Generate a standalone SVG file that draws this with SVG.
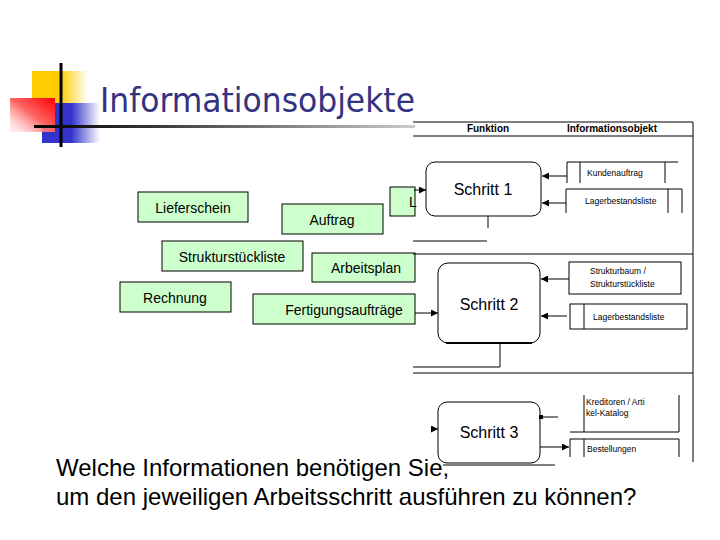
<svg xmlns="http://www.w3.org/2000/svg" width="720" height="540" viewBox="0 0 720 540">
<defs>
<linearGradient id="gY" x1="0" y1="0" x2="1" y2="0"><stop offset="0" stop-color="#FFCC00"/><stop offset="0.5" stop-color="#FFCC00"/><stop offset="1" stop-color="#FFCC00" stop-opacity="0"/></linearGradient>
<linearGradient id="gB" x1="0" y1="0" x2="1" y2="0"><stop offset="0" stop-color="#3333CC"/><stop offset="0.5" stop-color="#3333CC"/><stop offset="1" stop-color="#3333CC" stop-opacity="0"/></linearGradient>
<linearGradient id="gR" x1="1" y1="0" x2="0" y2="1"><stop offset="0" stop-color="#FF0000"/><stop offset="0.5" stop-color="#FF6666"/><stop offset="1" stop-color="#FFDDDD" stop-opacity="0.3"/></linearGradient>
<linearGradient id="gL" x1="0" y1="0" x2="1" y2="0"><stop offset="0" stop-color="#000"/><stop offset="0.3" stop-color="#333"/><stop offset="1" stop-color="#ccc"/></linearGradient>
<marker id="ah" viewBox="0 0 8 8" refX="8" refY="4" markerWidth="7" markerHeight="7" markerUnits="userSpaceOnUse" orient="auto"><path d="M0,0 L8,4 L0,8 z" fill="#000"/></marker>
<marker id="sq" viewBox="0 0 4 4" refX="2" refY="2" markerWidth="4" markerHeight="5" markerUnits="userSpaceOnUse" orient="auto"><rect x="0" y="0" width="4" height="4" fill="#000"/></marker>
</defs>
<style>
.g rect{fill:#CCFFCC;stroke:#000;stroke-width:1}
.g text{font-family:"Liberation Sans",Arial,sans-serif;font-size:14px;fill:#000;text-anchor:middle}
.st rect{fill:#fff;stroke:#000;stroke-width:1}
.st text{font-family:"Liberation Sans",Arial,sans-serif;font-size:16px;fill:#000;text-anchor:middle}
.ib line,.ib rect{fill:none;stroke:#000;stroke-width:1}
.ib text{font-family:"Liberation Sans",Arial,sans-serif;font-size:8.5px;fill:#000}
.c line,.c polyline{fill:none;stroke:#000;stroke-width:1}
.hd{font-family:"Liberation Sans",Arial,sans-serif;font-size:10px;font-weight:bold;fill:#000;text-anchor:middle}
.bt{font-family:"Liberation Sans",Arial,sans-serif;font-size:24px;fill:#000}
</style>
<rect width="720" height="540" fill="#fff"/>
<g id="logo">
<rect x="32" y="71" width="56" height="32" fill="url(#gY)"/>
<rect x="42" y="103" width="58" height="40" fill="url(#gB)"/>
<rect x="10" y="98" width="45" height="34" fill="url(#gR)"/>
<line x1="61" y1="63" x2="61" y2="147" stroke="#000" stroke-width="3"/>
<rect x="34" y="125" width="381" height="3" fill="url(#gL)"/>
</g>
<text id="title" x="100" y="112" font-family="'DejaVu Sans Condensed','DejaVu Sans',sans-serif" font-size="34" fill="#333380" textLength="315" lengthAdjust="spacingAndGlyphs">Informationsobjekte</text>

<g id="lieferschein" class="g"><rect x="138" y="192" width="110" height="30"/><text x="193" y="213">Lieferschein</text></g>
<g id="auftrag" class="g"><rect x="282" y="204" width="101" height="30"/><text x="332" y="225">Auftrag</text></g>
<g id="l-box" class="g"><rect x="390" y="187" width="25" height="29"/><text x="413" y="207">L</text></g>
<g id="strukturstueckliste" class="g"><rect x="162" y="241" width="141" height="30"/><text x="232" y="262">Strukturstückliste</text></g>
<g id="arbeitsplan" class="g"><rect x="312" y="253" width="103" height="29"/><text x="366" y="273">Arbeitsplan</text></g>
<g id="rechnung" class="g"><rect x="120" y="282" width="111" height="30"/><text x="175" y="303">Rechnung</text></g>
<g id="fertigungsauftraege" class="g"><rect x="253" y="294" width="162" height="30"/><text x="344" y="315">Fertigungsaufträge</text></g>

<g id="table-header">
<line x1="413" y1="122" x2="693" y2="122" stroke="#000"/>
<line x1="413" y1="136" x2="693" y2="136" stroke="#000"/>
<text class="hd" x="488" y="132">Funktion</text>
<text class="hd" x="612" y="132">Informationsobjekt</text>
</g>

<g id="schritt1" class="st"><rect x="426" y="162" width="115" height="54" rx="9"/><text x="483" y="195">Schritt 1</text></g>
<g id="schritt2" class="st"><rect x="438" y="263" width="102" height="80" rx="10"/><line x1="446" y1="343" x2="532" y2="343" stroke="#000" stroke-width="2"/><text x="489" y="310">Schritt 2</text></g>
<g id="schritt3" class="st"><rect x="438" y="402" width="102" height="61" rx="9"/><text x="489" y="438">Schritt 3</text></g>

<g id="kundenauftrag" class="ib">
<line x1="567" y1="162" x2="678" y2="162"/><line x1="567" y1="162" x2="567" y2="183"/><line x1="580" y1="162" x2="580" y2="183"/><line x1="665" y1="162" x2="665" y2="183"/>
<text x="587" y="176">Kundenauftrag</text></g>
<g id="lagerbestandsliste1" class="ib">
<line x1="566" y1="189" x2="682" y2="189"/><line x1="566" y1="189" x2="566" y2="213"/><line x1="668" y1="189" x2="668" y2="213"/><line x1="682" y1="189" x2="682" y2="213"/>
<text x="585" y="204">Lagerbestandsliste</text></g>
<g id="strukturbaum" class="ib">
<rect x="569" y="262" width="112" height="32"/>
<text x="590" y="274">Strukturbaum /</text><text x="590" y="287">Strukturstückliste</text></g>
<g id="lagerbestandsliste2" class="ib">
<rect x="570" y="304" width="117" height="25"/><line x1="584" y1="304" x2="584" y2="329"/>
<text x="593" y="320">Lagerbestandsliste</text></g>
<g id="kreditoren" class="ib">
<line x1="584" y1="395" x2="584" y2="432"/><line x1="679" y1="395" x2="679" y2="432"/><line x1="570" y1="432" x2="679" y2="432"/>
<text x="586" y="405">Kreditoren / Arti</text><text x="586" y="416">kel-Katalog</text></g>
<g id="bestellungen" class="ib">
<line x1="570" y1="439" x2="679" y2="439"/><line x1="570" y1="439" x2="570" y2="457"/><line x1="584" y1="439" x2="584" y2="457"/><line x1="679" y1="439" x2="679" y2="457"/>
<text x="587" y="452">Bestellungen</text></g>

<g id="connectors" class="c">
<line x1="693" y1="122" x2="693" y2="462"/>
<line x1="414" y1="190" x2="426" y2="190" marker-end="url(#ah)"/>
<line x1="567" y1="176" x2="542" y2="176" marker-end="url(#ah)"/>
<line x1="566" y1="203" x2="542" y2="203" marker-end="url(#ah)"/>
<line x1="488" y1="216" x2="488" y2="228"/>
<line x1="413" y1="241" x2="487" y2="241"/>
<line x1="413" y1="254" x2="693" y2="254"/>
<line x1="415" y1="313" x2="438" y2="313" marker-end="url(#ah)"/>
<line x1="569" y1="279" x2="541" y2="279" marker-end="url(#ah)"/>
<line x1="567" y1="316" x2="541" y2="316" marker-end="url(#ah)"/>
<polyline points="500,343 500,367 413,367"/>
<line x1="413" y1="373" x2="693" y2="373"/>
<line x1="431" y1="429" x2="438" y2="429" marker-end="url(#ah)"/>
<line x1="541" y1="417" x2="558" y2="417" marker-start="url(#sq)"/>
<line x1="540" y1="447" x2="569" y2="447" marker-end="url(#ah)"/>
<line x1="443" y1="465" x2="555" y2="465" stroke="#aaa"/>
</g>

<text class="bt" x="56" y="476">Welche Informationen benötigen Sie,</text>
<text class="bt" x="56" y="505">um den jeweiligen Arbeitsschritt ausführen zu können?</text>
</svg>
